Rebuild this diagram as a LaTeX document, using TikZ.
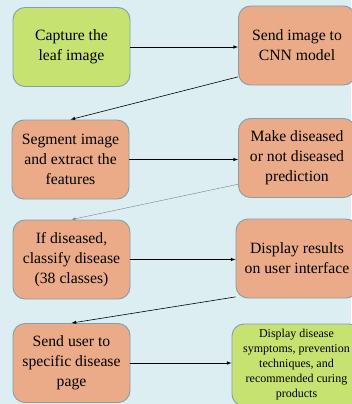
\documentclass[tikz,border=0pt]{standalone}
\usepackage{fontspec}
\setmainfont{Liberation Serif}
\newfontfamily\boxfont{Liberation Serif}
\usetikzlibrary{arrows}
\definecolor{bgblue}{RGB}{220,238,242}
\definecolor{leafgreen}{RGB}{198,226,112}
\definecolor{stepsalmon}{RGB}{235,170,136}
\definecolor{edgegray}{RGB}{130,160,170}

\begin{document}
\begin{tikzpicture}[x=1pt,y=-1pt,
    box/.style={draw=edgegray,line width=0.9pt,rounded corners=12pt,
      minimum width=117pt,minimum height=79pt,inner sep=0pt,align=center,
      font=\boxfont\fontsize{15.7}{20}\selectfont},
    greenbox/.style={box,fill=leafgreen},
    orangebox/.style={box,fill=stepsalmon},
    flow/.style={-latex,line width=0.6pt}]
      \fill[bgblue] (0,0) rectangle (351,404);
      \useasboundingbox (0,0) rectangle (351,404);
      % left column
      \node[greenbox](b1) at (71.5,47){Capture the\\leaf image};
      \node[orangebox](b3) at (70.5,159.5){Segment image\\and extract the\\features};
      \node[orangebox](b5) at (71.5,259.5){If diseased,\\classify disease\\(38 classes)};
      \node[orangebox](b7) at (71.5,363){Send user to\\specific disease\\page};
      % right column
      \node[orangebox](b2) at (297,45.5){Send image to\\CNN model};
      \node[orangebox](b4) at (297,158){Make diseased\\or not diseased\\prediction};
      \node[orangebox,minimum width=122pt](b6) at (297,258.5){Display results\\on user interface};
      \node[greenbox,minimum width=129pt,minimum height=82pt,
        font=\boxfont\fontsize{12}{15}\selectfont](b8) at (296.5,365)
        {Display disease\\symptoms, prevention\\techniques, and\\recommended curing\\products};
      % connectors
      \draw[flow] (b1.east) -- (b1.east -| b2.west);
      \draw[flow] (b2.208) -- (b3.north);
      \draw[flow] (b3.east) -- (b3.east -| b4.west);
      \draw[flow,draw=gray,line width=0.4pt] (b4.204) -- (b5.north);
      \draw[flow] (b5.east) -- (b5.east -| b6.west);
      \draw[flow] (b6.212) -- (b7.north);
      \draw[flow] (b7.east) -- (b7.east -| b8.west);
    \end{tikzpicture}
\end{document}
